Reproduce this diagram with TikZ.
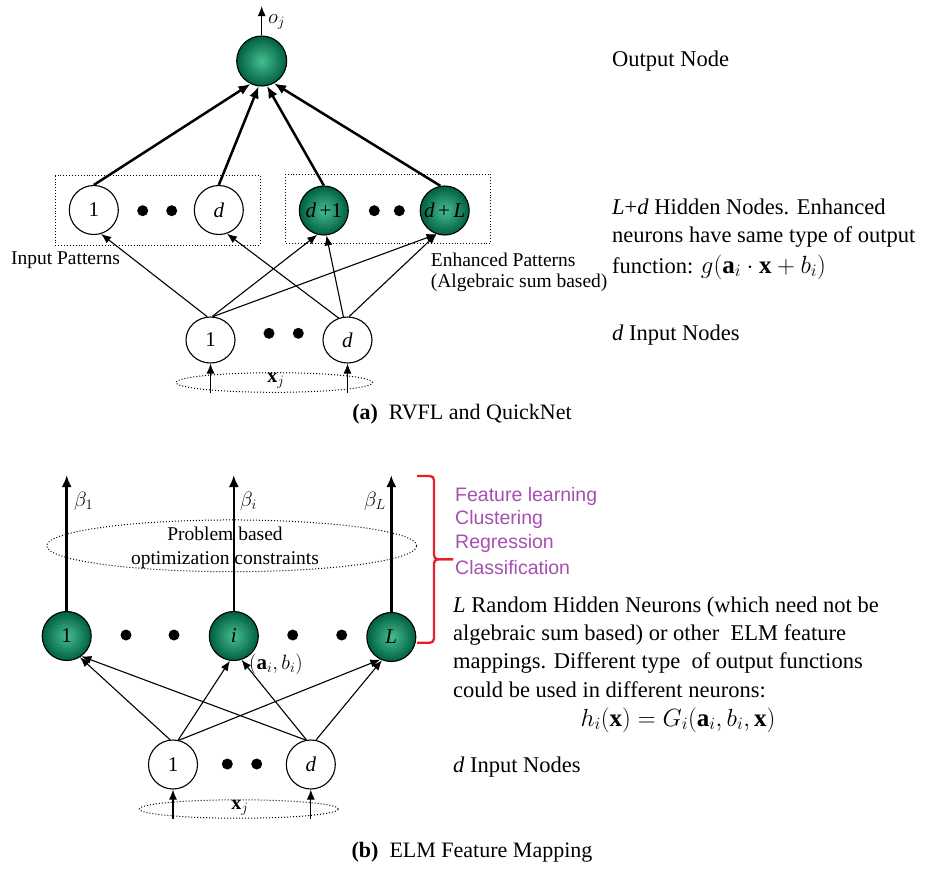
\documentclass[tikz,border=0pt]{standalone}
\usepackage{fontspec}
\setmainfont{Liberation Serif}
\newfontfamily\purplefont{Liberation Sans}
\usetikzlibrary{arrows.meta,shapes.geometric}
\definecolor{gin}{RGB}{70,190,145}
\definecolor{gout}{RGB}{0,95,65}
\definecolor{labpurple}{RGB}{165,80,175}
\definecolor{bracered}{RGB}{232,30,40}
\begin{document}
\begin{tikzpicture}[x=1pt,y=-1pt,
  neuron/.style={circle, draw=black, line width=1.1pt, minimum size=49pt, inner sep=0pt, font=\fontsize{21}{21}\selectfont},
  gneuron/.style={neuron, shading=radial, inner color=gin, outer color=gout},
  dotnode/.style={circle, fill=black, minimum size=11pt, inner sep=0pt},
  thinarrow/.style={-{Latex[length=10pt,width=8pt]}, line width=1.1pt},
  thickarrow/.style={-{Latex[length=12pt,width=10pt]}, line width=2.5pt},
  dotbox/.style={draw, dotted, line width=0.9pt},
  dotell/.style={ellipse, draw, dotted, line width=1pt, inner sep=0pt},
  lab/.style={font=\fontsize{19.5}{22}\selectfont, inner sep=0pt},
  txt/.style={font=\fontsize{22.5}{26}\selectfont, anchor=west, inner sep=0pt},
  ptxt/.style={font=\purplefont\fontsize{19.5}{22}\selectfont, text=labpurple, anchor=west, inner sep=0pt},
]
\useasboundingbox (0,0) rectangle (933,868);

% ================= (a) =================
\node[gneuron, minimum size=50pt] (out) at (261.7,61) {};
\coordinate (ojtip) at (261.7,6);
\draw[-{Latex[length=10pt,width=8pt]}, line width=1.3pt] (out.north) -- (ojtip);
\node[lab, anchor=west, font=\fontsize{21}{21}\selectfont] (oj) at (268,22) {$o_j$};

\draw[dotbox] (55,175.7) rectangle (260,245);
\draw[dotbox] (285.7,174.3) rectangle (490.7,243.3);

\node[neuron] (h1) at (93.8,210) {1};
\node[neuron] (hd) at (218.8,210) {\textit{d}};
\node[gneuron] (hd1) at (323.8,210.5) {\textit{d}\,+1};
\node[gneuron] (hdL) at (444.7,210.5) {\textit{d}\,+\,\textit{L}};
\node[dotnode] (da1) at (142.7,210.7) {};
\node[dotnode] (da2) at (171.7,210.7) {};
\node[dotnode] (da3) at (374.3,210.7) {};
\node[dotnode] (da4) at (399.3,210.7) {};

\node[lab] (inpat) at (65.5,260) {Input Patterns};
\node[lab, anchor=west] (enh1) at (430.7,260) {Enhanced Patterns};
\node[lab, anchor=west] (enh2) at (430.7,283.3) {(Algebraic sum based)};

\node[neuron, minimum width=49pt, minimum height=46pt, ellipse] (ia1) at (210.5,340) {1};
\node[neuron, minimum width=49pt, minimum height=46pt, ellipse] (iad) at (347.5,340) {\textit{d}};
\node[dotnode] (da5) at (269,333.3) {};
\node[dotnode] (da6) at (298.3,333.3) {};

\node[dotell, minimum width=196.6pt, minimum height=19.6pt] (xa) at (274.3,382.5) {};
\node[lab, font=\fontsize{20}{20}\selectfont] (xaj) at (276,381) {$\mathbf{x}_j$};
\coordinate (xa1) at (210.5,393);
\coordinate (xad) at (347.5,393);
\draw[thinarrow] (xa1) -- (ia1.south);
\draw[thinarrow] (xad) -- (iad.south);

% output connections
\draw[thickarrow] (h1.north) -- (out.-116);
\draw[thickarrow] (hd.north) -- (out.-97);
\draw[thickarrow] (hd1.north) -- (out.-78);
\draw[thickarrow] (hdL.100) -- (out.-61);

% input -> hidden
\draw[thinarrow] (ia1.98) -- (h1.-73);
\draw[thinarrow] (ia1.86) -- (hd1.-105);
\draw[thinarrow] (ia1.84) -- (hdL.-109);
\draw[thinarrow] (iad.112) -- (hd.-71);
\draw[thinarrow] (iad.100) -- (hd1.-84);
\draw[thinarrow] (iad.86) -- (hdL.-109);

\node[font=\fontsize{22}{22}\selectfont] (capa) at (462,414) {\textbf{(a)}\ \ RVFL\ and\ QuickNet};

\node[txt] (ta1) at (612,61) {Output Node};
\node[txt] (ta2) at (612,207) {\textit{L}+\textit{d} Hidden Nodes. Enhanced};
\node[txt] (ta3) at (612,237) {neurons have same type of output};
\node[txt] (ta4) at (612,267) {function: {\fontsize{25}{25}\selectfont$g(\mathbf{a}_i\cdot\mathbf{x}+b_i)$}};
\node[txt] (ta5) at (612,335) {\textit{d} Input Nodes};

% ================= (b) =================
\node[dotell, minimum width=370pt, minimum height=51.7pt] (prob) at (231.7,545.8) {};
\node[lab, align=center, font=\fontsize{19.5}{23.5}\selectfont] (probt) at (225,548) {Problem based\\optimization constraints};

\node[gneuron] (b1) at (66.7,636) {1};
\node[gneuron] (bi) at (233.8,636) {\textit{i}};
\node[gneuron] (bL) at (391.3,637) {\textit{L}};
\node[dotnode] (db1) at (126,635) {};
\node[dotnode] (db2) at (174,635) {};
\node[dotnode] (db3) at (292.7,635) {};
\node[dotnode] (db4) at (341.7,635) {};

\coordinate (beta1tip) at (66.7,475);
\coordinate (betaitip) at (233.8,475);
\coordinate (betaLtip) at (391.3,475);
\draw[thickarrow] (b1.north) -- (beta1tip);
\draw[thickarrow] (bi.north) -- (betaitip);
\draw[thickarrow] (bL.north) -- (betaLtip);
\node[lab, anchor=west, font=\fontsize{21}{21}\selectfont] (beta1) at (74,501) {$\beta_1$};
\node[lab, anchor=west, font=\fontsize{21}{21}\selectfont] (betai) at (240,501) {$\beta_i$};
\node[lab, anchor=east, font=\fontsize{21}{21}\selectfont] (betaL) at (386,501) {$\beta_L$};

\node[neuron] (ib1) at (173,764.5) {1};
\node[neuron] (ibd) at (310.8,764.5) {\textit{d}};
\node[dotnode] (db5) at (227.3,764) {};
\node[dotnode] (db6) at (256.7,764) {};

\node[dotell, minimum width=199pt, minimum height=18.4pt] (xb) at (238.8,809) {};
\node[lab, font=\fontsize{20}{20}\selectfont] (xbj) at (240,808) {$\mathbf{x}_j$};
\coordinate (xb1) at (173,819);
\coordinate (xbd) at (310.8,819);
\draw[thinarrow] (xb1) -- (ib1.south);
\draw[thinarrow] (xbd) -- (ibd.south);

\draw[thinarrow] (ib1.97) -- (b1.-58);
\draw[thinarrow] (ib1.78) -- (bi.-99);
\draw[thinarrow] (ib1.76) -- (bL.-116);
\draw[thinarrow] (ibd.102) -- (b1.-54);
\draw[thinarrow] (ibd.100) -- (bi.-72);
\draw[thinarrow] (ibd.78) -- (bL.-112);

\node[lab, anchor=west, font=\fontsize{21}{21}\selectfont] (abi) at (249,664) {$(\mathbf{a}_i,b_i)$};

% brace
\coordinate (brt) at (417,476);
\coordinate (brm) at (453,559.3);
\coordinate (brb) at (417,642.7);
\draw[bracered, line width=2.3pt, rounded corners=4pt] (brt) -- (434,476) -- (434,559.3) -- (brm);
\draw[bracered, line width=2.3pt, rounded corners=4pt] (brm) -- (434,559.3) -- (434,642.7) -- (brb);

\node[ptxt] (p1) at (455,496) {Feature learning};
\node[ptxt] (p2) at (455,519.5) {Clustering};
\node[ptxt] (p3) at (455,543.5) {Regression};
\node[ptxt] (p4) at (455,567.5) {Classification};

\node[txt] (tb1) at (453,607) {\textit{L} Random Hidden Neurons (which need not be};
\node[txt] (tb2) at (453,634.5) {algebraic sum based) or other\ \ ELM feature};
\node[txt] (tb3) at (453,662.5) {mappings. Different type\ \ of output functions};
\node[txt] (tb4) at (453,690) {could be used in different neurons:};
\node[font=\fontsize{25}{25}\selectfont, inner sep=0pt] (tb5) at (678,720) {$h_i(\mathbf{x}) = G_i(\mathbf{a}_i,b_i,\mathbf{x})$};
\node[txt] (tb6) at (453,767) {\textit{d} Input Nodes};

\node[font=\fontsize{22}{22}\selectfont] (capb) at (472,852) {\textbf{(b)}\ \ ELM Feature Mapping};
\end{tikzpicture}
\end{document}
